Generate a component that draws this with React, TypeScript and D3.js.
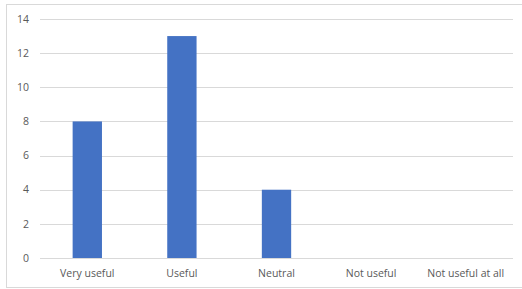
import React, { useEffect, useRef } from 'react';
import * as d3 from 'd3';

const categories = ['Very useful', 'Useful', 'Neutral', 'Not useful', 'Not useful at all'];
const counts = [8, 13, 4, 0, 0];
const yTicks = [0, 2, 4, 6, 8, 10, 12, 14];

const App = () => {
  const ref = useRef<SVGSVGElement | null>(null);
  const width = 522;
  const height = 289;

  useEffect(() => {
    if (!ref.current) return;
    const svg = d3.select(ref.current);
    svg.selectAll('*').remove();

    svg.append('rect')
      .attr('x', 6.5).attr('y', 4.5)
      .attr('width', 530).attr('height', 283)
      .attr('fill', 'white')
      .attr('stroke', '#d9d9d9');

    const x = d3.scaleBand<string>()
      .domain(categories)
      .range([40, 513])
      .paddingInner(0.69)
      .paddingOuter(0.345);

    const y = d3.scaleLinear().domain([0, 14]).range([258, 19]);

    const g = svg.append('g');

    g.selectAll('.grid')
      .data(yTicks)
      .enter().append('line')
      .attr('x1', 40).attr('x2', 513)
      .attr('y1', d => Math.round(y(d)) + 0.5)
      .attr('y2', d => Math.round(y(d)) + 0.5)
      .attr('stroke', '#d9d9d9')
      .attr('stroke-width', 1);

    g.selectAll('.ylab')
      .data(yTicks)
      .enter().append('text')
      .attr('x', 29)
      .attr('y', d => y(d))
      .attr('dy', '0.35em')
      .attr('text-anchor', 'end')
      .style('font-family', 'Open Sans, sans-serif')
      .style('font-size', '10.5px')
      .style('fill', '#595959')
      .text(d => d);

    g.selectAll('.bar')
      .data(counts)
      .enter().append('rect')
      .attr('x', (_, i) => x(categories[i]) ?? 0)
      .attr('width', x.bandwidth())
      .attr('y', d => y(d))
      .attr('height', d => y(0) - y(d))
      .attr('fill', '#4472c4');

    g.selectAll('.xlab')
      .data(categories)
      .enter().append('text')
      .attr('x', d => (x(d) ?? 0) + x.bandwidth() / 2)
      .attr('y', 273)
      .attr('dy', '0.35em')
      .attr('text-anchor', 'middle')
      .style('font-family', 'Open Sans, sans-serif')
      .style('font-size', '10.5px')
      .style('fill', '#595959')
      .text(d => d);
  }, []);

  return (
    <svg
      ref={ref}
      width={width}
      height={height}
      style={{ position: 'absolute', left: 0, top: 0, background: 'white' }}
    ></svg>
  );
};

export default App;
